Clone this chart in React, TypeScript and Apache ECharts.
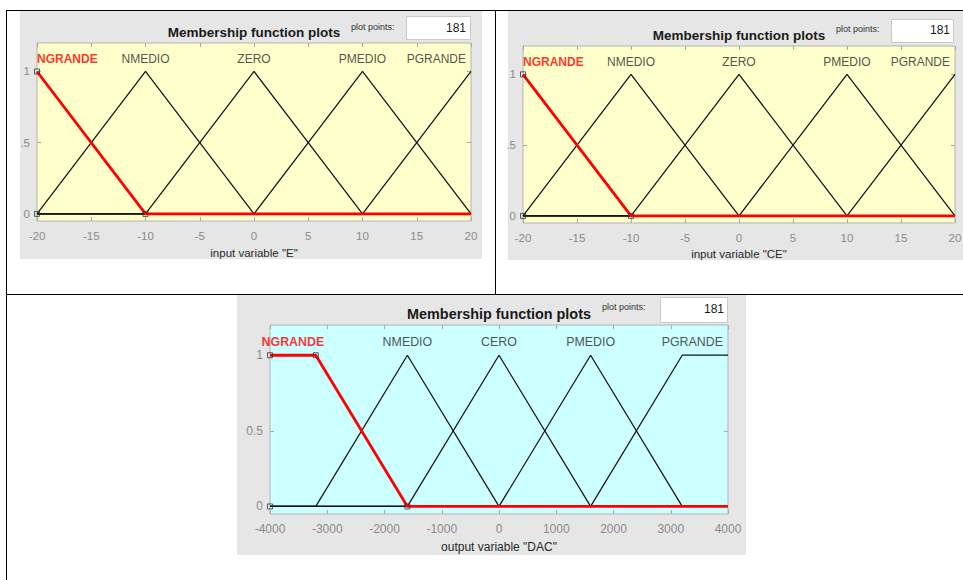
import React, { useEffect, useRef } from "react";
import * as echarts from "echarts";

// ---------- data ----------
const xTicksE = [-20, -15, -10, -5, 0, 5, 10, 15, 20];
const xTicksDAC = [-4000, -3000, -2000, -1000, 0, 1000, 2000, 3000, 4000];
const yTicks = [0, 0.5, 1];
const yTickLabelsTop = ["0", ".5", "1"];
const yTickLabelsBottom = ["0", "0.5", "1"];

const namesE = ["NGRANDE", "NMEDIO", "ZERO", "PMEDIO", "PGRANDE"];
const eNGRANDE = [[-20, 1], [-10, 0], [20, 0]];
const eNMEDIO = [[-20, 0], [-10, 1], [0, 0], [20, 0]];
const eZERO = [[-20, 0], [-10, 0], [0, 1], [10, 0], [20, 0]];
const ePMEDIO = [[-20, 0], [0, 0], [10, 1], [20, 0]];
const ePGRANDE = [[-20, 0], [10, 0], [20, 1]];
const markersE = [[-20, 1], [-20, 0], [-10, 0]];

const namesCE = ["NGRANDE", "NMEDIO", "ZERO", "PMEDIO", "PGRANDE"];
const ceNGRANDE = [[-20, 1], [-10, 0], [20, 0]];
const ceNMEDIO = [[-20, 0], [-10, 1], [0, 0], [20, 0]];
const ceZERO = [[-20, 0], [-10, 0], [0, 1], [10, 0], [20, 0]];
const cePMEDIO = [[-20, 0], [0, 0], [10, 1], [20, 0]];
const cePGRANDE = [[-20, 0], [10, 0], [20, 1]];
const markersCE = [[-20, 1], [-20, 0], [-10, 0]];

const namesDAC = ["NGRANDE", "NMEDIO", "CERO", "PMEDIO", "PGRANDE"];
const dacNGRANDE = [[-4000, 1], [-3200, 1], [-1600, 0], [4000, 0]];
const dacNMEDIO = [[-4000, 0], [-3200, 0], [-1600, 1], [0, 0], [4000, 0]];
const dacCERO = [[-4000, 0], [-1600, 0], [0, 1], [1600, 0], [4000, 0]];
const dacPMEDIO = [[-4000, 0], [0, 0], [1600, 1], [3200, 0], [4000, 0]];
const dacPGRANDE = [[-4000, 0], [1600, 0], [3200, 1], [4000, 1]];
const markersDAC = [[-4000, 1], [-3200, 1], [-4000, 0], [-1600, 0]];

const plotPoints = ["181", "181", "181"];

// ---------- layout ----------
const FONT = '"Liberation Sans", Arial, Helvetica, sans-serif';

const panels = [
  {
    grid: { left: 37, top: 43, width: 434, height: 178 },
    bg: "#FFFFCC",
    xMin: -20, xMax: 20, xInt: 5, xTicks: xTicksE,
    yLabels: yTickLabelsTop,
    mfs: [eNGRANDE, eNMEDIO, eZERO, ePMEDIO, ePGRANDE],
    names: namesE, markers: markersE,
    xName: 'input variable "E"', nameGap: 26,
    fs: 12, tfs: 11.5,
    panel: { x: 20, y: 11, w: 462, h: 248 },
    title: { x: 254, y: 32, fs: 13.5 },
    pp: { x: 351, y: 27 },
    box: { x: 406, y: 16, w: 64, h: 23, tx: 466, ty: 28 },
  },
  {
    grid: { left: 523, top: 46, width: 432, height: 177 },
    bg: "#FFFFCC",
    xMin: -20, xMax: 20, xInt: 5, xTicks: xTicksE,
    yLabels: yTickLabelsTop,
    mfs: [ceNGRANDE, ceNMEDIO, ceZERO, cePMEDIO, cePGRANDE],
    names: namesCE, markers: markersCE,
    xName: 'input variable "CE"', nameGap: 25,
    fs: 12, tfs: 11.5,
    panel: { x: 508, y: 11, w: 456, h: 249 },
    title: { x: 739, y: 35, fs: 13.5 },
    pp: { x: 836, y: 29 },
    box: { x: 891, y: 19, w: 62, h: 23, tx: 950, ty: 30 },
  },
  {
    grid: { left: 270, top: 325, width: 458, height: 189 },
    bg: "#CCFFFF",
    xMin: -4000, xMax: 4000, xInt: 1000, xTicks: xTicksDAC,
    yLabels: yTickLabelsBottom,
    mfs: [dacNGRANDE, dacNMEDIO, dacCERO, dacPMEDIO, dacPGRANDE],
    names: namesDAC, markers: markersDAC,
    xName: 'output variable "DAC"', nameGap: 27,
    fs: 12.4, tfs: 12,
    panel: { x: 237, y: 295, w: 509, h: 260 },
    title: { x: 499, y: 314, fs: 14.4 },
    pp: { x: 602, y: 307 },
    box: { x: 660, y: 297, w: 67, h: 25, tx: 724, ty: 309 },
  },
];

function peakCenter(pts: number[][]) {
  const xs = pts.filter((p) => p[1] === 1).map((p) => p[0]);
  return xs.reduce((a, b) => a + b, 0) / xs.length;
}

function buildOption() {
  const grids: any[] = [];
  const xAxes: any[] = [];
  const yAxes: any[] = [];
  const series: any[] = [];
  const graphics: any[] = [];

  panels.forEach((p, i) => {
    grids.push({
      ...p.grid,
      show: true,
      backgroundColor: p.bg,
      borderColor: "#B4B4B4",
      borderWidth: 1,
      containLabel: false,
      outerBoundsMode: "none",
    });
    const tickStyle = { show: true, inside: true, length: 4, lineStyle: { color: "#A8A8A8" } };
    // bottom x
    xAxes.push({
      type: "value", gridIndex: i, position: "bottom",
      min: p.xMin, max: p.xMax, interval: p.xInt,
      axisLine: { show: false, onZero: false },
      axisTick: { ...tickStyle, customValues: p.xTicks },
      axisLabel: { color: "#8A8A8A", fontSize: p.tfs, margin: 9, fontFamily: FONT, customValues: p.xTicks, formatter: (v: number) => String(v) },
      splitLine: { show: false },
      name: p.xName, nameLocation: "middle", nameGap: p.nameGap,
      nameTextStyle: { color: "#262626", fontSize: p.tfs, fontFamily: FONT },
    });
    // top x (ticks only)
    xAxes.push({
      type: "value", gridIndex: i, position: "top",
      min: p.xMin, max: p.xMax, interval: p.xInt,
      axisLine: { show: false, onZero: false },
      axisTick: { ...tickStyle, customValues: p.xTicks },
      axisLabel: { show: false },
      splitLine: { show: false },
    });
    // left y
    const labels = p.yLabels;
    yAxes.push({
      type: "value", gridIndex: i, position: "left",
      min: -0.05, max: 1.2,
      axisLine: { show: false, onZero: false },
      axisTick: { ...tickStyle, customValues: yTicks },
      axisLabel: {
        color: "#8A8A8A", fontSize: p.tfs, margin: 7, fontFamily: FONT,
        customValues: yTicks,
        formatter: (v: number) => labels[yTicks.indexOf(v)] ?? "",
      },
      splitLine: { show: false },
    });
    // right y (ticks only)
    yAxes.push({
      type: "value", gridIndex: i, position: "right",
      min: -0.05, max: 1.2,
      axisLine: { show: false, onZero: false },
      axisTick: { ...tickStyle, customValues: yTicks },
      axisLabel: { show: false },
      splitLine: { show: false },
    });

    const xi = i * 2;
    const yi = i * 2;
    p.mfs.forEach((pts, k) => {
      const red = k === 0;
      series.push({
        type: "line",
        xAxisIndex: xi, yAxisIndex: yi,
        data: pts,
        showSymbol: false,
        symbol: "none",
        silent: true,
        z: red ? 3 : 2,
        lineStyle: { color: red ? "#FF0000" : "#141414", width: red ? 2.8 : 1.25 },
      });
    });
    // markers
    series.push({
      type: "scatter",
      xAxisIndex: xi, yAxisIndex: yi,
      data: p.markers,
      symbol: "rect",
      symbolSize: 5,
      silent: true,
      z: 4,
      itemStyle: { color: "rgba(0,0,0,0)", borderColor: "#333", borderWidth: 1 },
    });
    // MF labels
    const labelData = p.names.map((name, k) => {
      const c = peakCenter(p.mfs[k]);
      let x = c;
      let align = "center";
      let dx = 0;
      if (k === 0 && c <= p.xMin) {
        x = p.xMin; align = "left";
      }
      if (k === p.names.length - 1) {
        x = p.xMax; align = "right"; dx = -5;
      }
      return {
        value: [x, 1.1],
        label: {
          show: true, formatter: name, position: "inside", align, verticalAlign: "middle",
          offset: [dx, 2], color: k === 0 ? "#FF0000" : "#262626",
          fontWeight: k === 0 ? "bold" : "normal",
          fontSize: p.fs, fontFamily: FONT,
        },
      };
    });
    series.push({
      type: "scatter",
      xAxisIndex: xi, yAxisIndex: yi,
      data: labelData,
      symbolSize: 1,
      silent: true,
      z: 5,
      itemStyle: { color: "rgba(0,0,0,0)" },
    });

    // panel background and decorations
    graphics.push({
      type: "rect", z: -10, silent: true,
      shape: { x: p.panel.x, y: p.panel.y, width: p.panel.w, height: p.panel.h },
      style: { fill: "#E6E6E6" },
    });
    graphics.push({
      type: "text", z: 10, silent: true,
      x: p.title.x, y: p.title.y,
      style: {
        text: "Membership function plots", fill: "#1A1A1A",
        font: `bold ${p.title.fs}px ${FONT}`,
        textAlign: "center", align: "center", textVerticalAlign: "middle", verticalAlign: "middle",
      },
    });
    graphics.push({
      type: "text", z: 10, silent: true,
      x: p.pp.x, y: p.pp.y,
      style: {
        text: "plot points:", fill: "#333",
        font: `9px ${FONT}`,
        textAlign: "left", align: "left", textVerticalAlign: "middle", verticalAlign: "middle",
      },
    });
    graphics.push({
      type: "rect", z: 10, silent: true,
      shape: { x: p.box.x + 0.5, y: p.box.y + 0.5, width: p.box.w, height: p.box.h },
      style: { fill: "#FFFFFF", stroke: "#C8C8C8", lineWidth: 1 },
    });
    graphics.push({
      type: "text", z: 11, silent: true,
      x: p.box.tx, y: p.box.ty,
      style: {
        text: plotPoints[i], fill: "#1A1A1A",
        font: `12px ${FONT}`,
        textAlign: "right", align: "right", textVerticalAlign: "middle", verticalAlign: "middle",
      },
    });
  });

  // table frame lines
  const frame = [
    [6, 10.5, 963, 10.5],
    [6.5, 10, 6.5, 580],
    [6, 294.5, 963, 294.5],
    [495.5, 10, 495.5, 294],
  ];
  frame.forEach((l) => {
    graphics.push({
      type: "line", z: 20, silent: true,
      shape: { x1: l[0], y1: l[1], x2: l[2], y2: l[3] },
      style: { stroke: "#000", lineWidth: 1 },
    });
  });

  return {
    animation: false,
    backgroundColor: "#FFFFFF",
    textStyle: { fontFamily: FONT },
    grid: grids,
    xAxis: xAxes,
    yAxis: yAxes,
    series,
    graphic: { elements: graphics },
  };
}

export default function App() {
  const ref = useRef<HTMLDivElement>(null);
  useEffect(() => {
    if (!ref.current) return;
    const chart = echarts.init(ref.current, undefined, { renderer: "svg" });
    chart.setOption(buildOption() as any);
    return () => chart.dispose();
  }, []);
  return (
    <div
      ref={ref}
      style={{ position: "absolute", left: 0, top: 0, width: 963, height: 580 }}
    />
  );
}
